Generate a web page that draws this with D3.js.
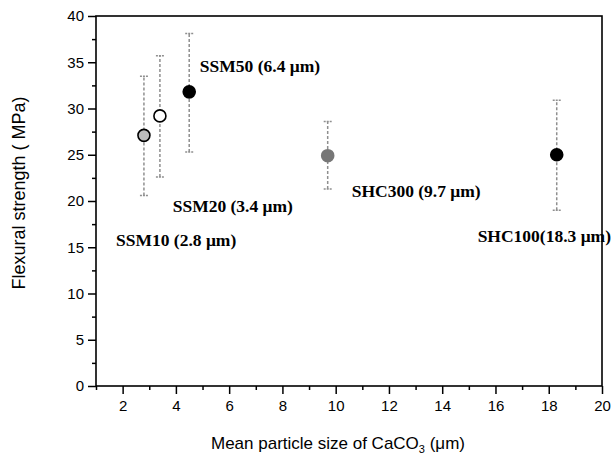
<!DOCTYPE html>
<html>
<head>
<meta charset="utf-8">
<script src="https://cdn.jsdelivr.net/npm/d3@7"></script>
<style>
  body { margin:0; background:#fff; }
  svg { display:block; }
  .tick text { font-family:"Liberation Sans", Arial, sans-serif; font-size:15px; fill:#000; }
  .lbl { font-family:"Liberation Serif", "Times New Roman", serif; font-weight:bold; font-size:17.5px; }
</style>
</head>
<body>
<svg id="chart" width="614" height="454"></svg>
<script>
// samples
var names = ["SSM10", "SSM20", "SSM50", "SHC300", "SHC100"];
var sizes = [2.8, 3.4, 4.5, 9.7, 18.3];
var strength = [27.1, 29.2, 31.8, 24.9, 25.0];
var errLow = [20.6, 22.6, 25.3, 21.3, 19.0];
var errHigh = [33.5, 35.7, 38.1, 28.6, 30.9];
var fills = ["#bdbdbd", "#ffffff", "#000000", "#777777", "#000000"];
var labels = ["SSM10 (2.8 \u03bcm)", "SSM20 (3.4 \u03bcm)", "SSM50 (6.4 \u03bcm)", "SHC300 (9.7 \u03bcm)", "SHC100(18.3 \u03bcm)"];
var labelX = [1.75, 3.88, 4.9, 10.6, 15.33];
var labelY = [15.1, 18.8, 33.95, 20.4, 15.55];
var xTicks = [2, 4, 6, 8, 10, 12, 14, 16, 18, 20];
var yTicks = [0, 5, 10, 15, 20, 25, 30, 35, 40];

var svg = d3.select("#chart");
var mLeft = 96, mRight = 602, mTop = 16, mBottom = 386;
var x = d3.scaleLinear().domain([1, 20]).range([mLeft, mRight]);
var y = d3.scaleLinear().domain([0, 40]).range([mBottom, mTop]);

// minor ticks
svg.append("g").attr("transform", "translate(0," + mBottom + ")")
  .call(d3.axisBottom(x).tickValues(d3.range(1, 20, 2)).tickSize(4).tickFormat(""))
  .call(function(g){ g.select(".domain").remove(); g.selectAll("line").attr("stroke-width", 1.5); });
svg.append("g").attr("transform", "translate(" + mLeft + ",0)")
  .call(d3.axisLeft(y).tickValues(d3.range(2.5, 40, 5)).tickSize(4).tickFormat(""))
  .call(function(g){ g.select(".domain").remove(); g.selectAll("line").attr("stroke-width", 1.5); });

// major axes
var xa = svg.append("g").attr("transform", "translate(0," + mBottom + ")")
  .call(d3.axisBottom(x).tickValues(xTicks).tickSize(8).tickPadding(6));
var ya = svg.append("g").attr("transform", "translate(" + mLeft + ",0)")
  .call(d3.axisLeft(y).tickValues(yTicks).tickSize(8).tickPadding(4));
[xa, ya].forEach(function(g){
  g.select(".domain").remove();
  g.selectAll("line").attr("stroke-width", 1.5);
});

// frame
svg.append("rect").attr("x", mLeft).attr("y", mTop).attr("width", mRight - mLeft).attr("height", mBottom - mTop)
  .attr("fill", "none").attr("stroke", "#000").attr("stroke-width", 1.6);

// error bars
var idx = d3.range(names.length);
var eb = svg.append("g").attr("stroke", "#8f8f8f").attr("stroke-width", 1.5);
eb.selectAll("line.bar").data(idx).enter().append("line")
  .attr("x1", function(i){ return x(sizes[i]); }).attr("x2", function(i){ return x(sizes[i]); })
  .attr("y1", function(i){ return y(errLow[i]); }).attr("y2", function(i){ return y(errHigh[i]); })
  .attr("stroke-dasharray", "3,2");
eb.selectAll("line.lo").data(idx).enter().append("line")
  .attr("x1", function(i){ return x(sizes[i]) - 4; }).attr("x2", function(i){ return x(sizes[i]) + 4; })
  .attr("y1", function(i){ return y(errLow[i]); }).attr("y2", function(i){ return y(errLow[i]); })
  .attr("stroke-dasharray", "2,1");
eb.selectAll("line.hi").data(idx).enter().append("line")
  .attr("x1", function(i){ return x(sizes[i]) - 4; }).attr("x2", function(i){ return x(sizes[i]) + 4; })
  .attr("y1", function(i){ return y(errHigh[i]); }).attr("y2", function(i){ return y(errHigh[i]); })
  .attr("stroke-dasharray", "2,1");

// markers
svg.selectAll("circle").data(idx).enter().append("circle")
  .attr("cx", function(i){ return x(sizes[i]); })
  .attr("cy", function(i){ return y(strength[i]); })
  .attr("r", 6)
  .attr("fill", function(i){ return fills[i]; })
  .attr("stroke", function(i){ return fills[i] == "#777777" ? "#777777" : "#000"; })
  .attr("stroke-width", 1.6);

// annotations
svg.selectAll("text.lbl").data(idx).enter().append("text")
  .attr("class", "lbl")
  .attr("x", function(i){ return x(labelX[i]); })
  .attr("y", function(i){ return y(labelY[i]); })
  .text(function(i){ return labels[i]; });

// axis titles
svg.append("text")
  .attr("transform", "translate(25,193) rotate(-90)")
  .attr("text-anchor", "middle")
  .style("font-family", "Liberation Sans, Arial, sans-serif").style("font-size", "18px")
  .text("Flexural strength ( MPa)");
var xt = svg.append("text")
  .attr("x", 338).attr("y", 449)
  .attr("text-anchor", "middle")
  .style("font-family", "Liberation Sans, Arial, sans-serif").style("font-size", "17px");
xt.append("tspan").text("Mean particle size of CaCO");
xt.append("tspan").attr("dy", 4).style("font-size", "11px").text("3");
xt.append("tspan").attr("dy", -4).text(" (\u03bcm)");
</script>
</body>
</html>
